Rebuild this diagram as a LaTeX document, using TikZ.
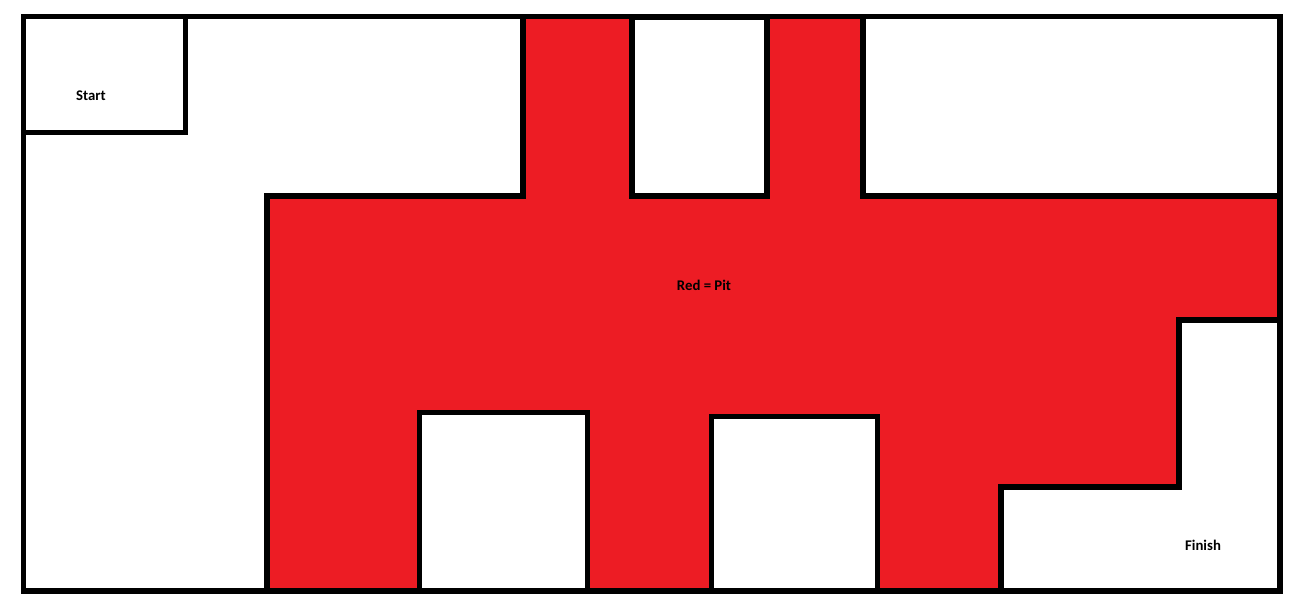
\documentclass[tikz,border=0pt]{standalone}
\usepackage{fontspec}
\setmainfont{Carlito}
\usepackage{tikz}

\definecolor{pitred}{HTML}{ED1C24}
\tikzset{
  wall/.style={line width=1.45pt, line cap=rect, line join=miter},
  roomlabel/.style={font=\fontsize{4.2}{5}\selectfont\bfseries, inner sep=0pt}
}

\begin{document}
\begin{tikzpicture}[x=0.01cm, y=-0.01cm]
  \useasboundingbox (0,0) rectangle (1304,616);

  % Pit area
  \fill[pitred] (267,196) -- (523,196) -- (523,17) -- (863,17) -- (863,196)
    -- (1280,196) -- (1280,320) -- (1179,320) -- (1179,487) -- (1001,487)
    -- (1001,591) -- (267,591) -- cycle;

  % Safe blocks inside the pit
  \foreach \xa/\ya/\xb/\yb in {632/17/767/196, 419.5/412.5/587.5/591, 711.5/416.5/877.5/591} {
    \fill[white] (\xa,\ya) rectangle (\xb,\yb);
    \draw[wall] (\xa,\ya) rectangle (\xb,\yb);
  }

  % Outer walls
  \draw[wall] (23.5,16.5) rectangle (1280,591);

  % Start room
  \draw[wall] (23.5,132.5) -- (185.5,132.5) -- (185.5,16.5);

  % Pit edges
  \draw[wall] (267,591) -- (267,196) -- (523,196) -- (523,16.5);
  \draw[wall] (863,16.5) -- (863,196) -- (1280,196);
  \draw[wall] (1280,320) -- (1179,320) -- (1179,487) -- (1001,487) -- (1001,591);

  % Labels
  \node[roomlabel] (start) at (91,96) {Start};
  \node[roomlabel] (pit) at (704,285) {Red = Pit};
  \node[roomlabel] (finish) at (1203,545) {Finish};
\end{tikzpicture}
\end{document}
